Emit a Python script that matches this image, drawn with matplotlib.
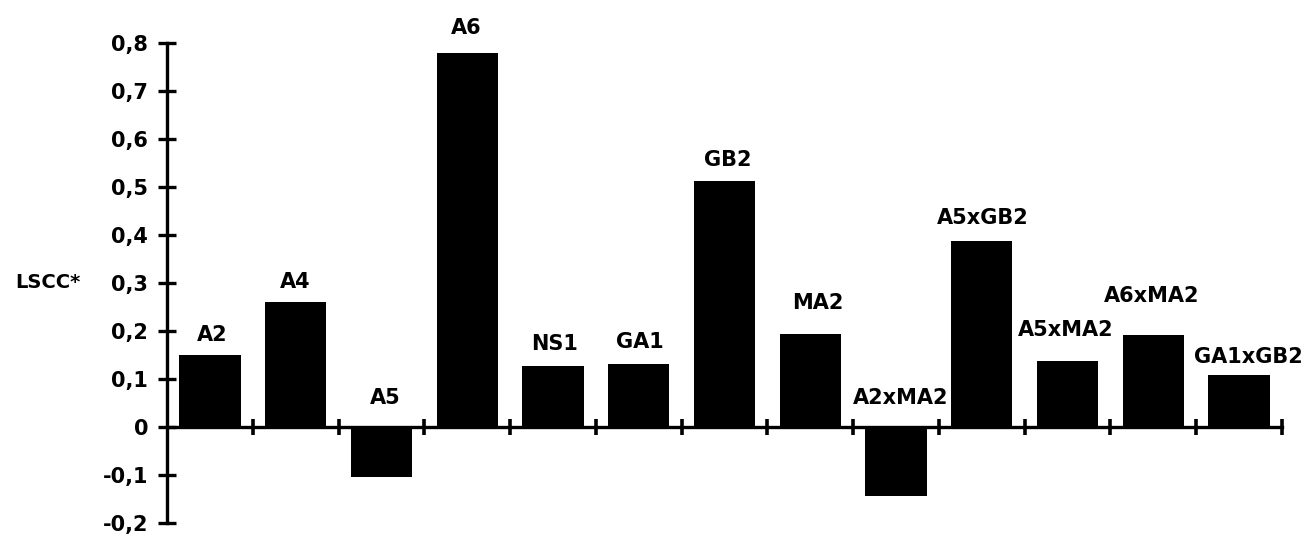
import matplotlib
matplotlib.use("Agg")
import matplotlib.pyplot as plt
import numpy as np

categories = ["A2", "A4", "A5", "A6", "NS1", "GA1", "GB2", "MA2",
              "A2xMA2", "A5xGB2", "A5xMA2", "A6xMA2", "GA1xGB2"]
values = [0.15, 0.26, -0.105, 0.78, 0.128, 0.132, 0.512, 0.193,
          -0.143, 0.387, 0.138, 0.192, 0.109]
yticks = [-0.2, -0.1, 0, 0.1, 0.2, 0.3, 0.4, 0.5, 0.6, 0.7, 0.8]
ytick_labels = ["-0,2", "-0,1", "0", "0,1", "0,2", "0,3", "0,4", "0,5",
                "0,6", "0,7", "0,8"]
ylabel = "LSCC*"

# label placement offsets (points)
label_dx = [2, 0, 3, -1, 1.5, 0.5, 2, 5.4, 3, 0.5, -1.4, -1.4, 6.8]
label_dy = [10, 10, 16.5, 13.7, 11.5, 11.5, 10.8, 18, 16.5, 12.2, 18, 23.8, 8.6]

plt.rcParams['font.family'] = ['DejaVu Sans']
fig = plt.figure(figsize=(13.07, 5.34), dpi=100)
ax = fig.add_axes([167 / 1307, 11 / 534, (1282 - 167) / 1307, (523 - 43) / 534])

x = np.arange(len(categories))
ax.bar(x, values, width=0.715, color="black", zorder=3)

ax.set_xlim(-0.5, len(categories) - 0.5)
ax.set_ylim(-0.2, 0.8)

for s in ["top", "right"]:
    ax.spines[s].set_visible(False)
ax.spines["left"].set_linewidth(2.4)
ax.spines["bottom"].set_linewidth(2.4)
ax.spines["bottom"].set_position(("data", 0))

ax.set_yticks(yticks)
ax.set_yticklabels(ytick_labels, fontsize=15, fontweight="bold")
ax.tick_params(axis="y", direction="inout", length=13, width=2.4, pad=7)

ax.set_xticks(np.arange(0.5, len(categories), 1.0))
ax.set_xticklabels([])
ax.tick_params(axis="x", direction="inout", length=12, width=2.6)

for xi, v, name, dx, dy in zip(x, values, categories, label_dx, label_dy):
    base = max(v, 0)
    ax.annotate(name, xy=(xi, base), xytext=(dx, dy), textcoords="offset points",
                ha="center", va="baseline", fontsize=15, fontweight="bold",
                annotation_clip=False, zorder=4)

ax.annotate(ylabel, xy=(0, 0.3), xycoords=("axes fraction", "data"),
            xytext=(-109, 0), textcoords="offset points",
            ha="left", va="center", fontsize=14, fontweight="bold")

fig.savefig("out.png", dpi=100)
